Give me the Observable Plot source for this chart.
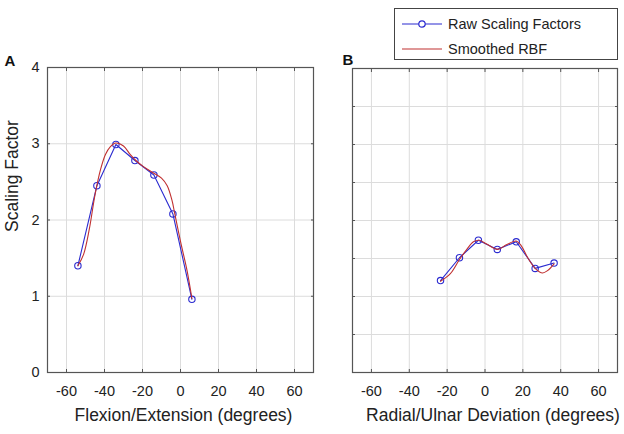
<!DOCTYPE html>
<html>
<head>
<meta charset="utf-8">
<script src="https://cdn.jsdelivr.net/npm/d3@7"></script>
<script src="https://cdn.jsdelivr.net/npm/@observablehq/plot@0.6"></script>
<style>
  body { margin: 0; background: #fff; }
  #wrap { position: relative; width: 624px; height: 434px; overflow: hidden; font-family: "Liberation Sans", Arial, sans-serif; }
  #wrap svg { position: absolute; top: 0; }
  #legend { position: absolute; left: 394px; top: 8px; width: 224px; height: 52px; border: 1px solid #444; background: #fff; box-sizing: border-box; }
  .row { position: absolute; left: 0; height: 20px; display: flex; align-items: center; font-size: 14.5px; color: #222; }
  .row svg { position: static !important; margin-left: 7px; margin-right: 6px; }
</style>
</head>
<body>
<div id="wrap"></div>
<script>
// ---- data ----
const xTicks = [-60, -40, -20, 0, 20, 40, 60];
const yTicksA = [0, 1, 2, 3, 4];
const yTicksB = [0, 0.5, 1, 1.5, 2, 2.5, 3, 3.5, 4];

const rawAX = [-54, -44, -34, -24, -14, -4, 6];
const rawAY = [1.40, 2.45, 2.99, 2.78, 2.59, 2.08, 0.96];
const smoothAX = [-54, -51, -48, -45, -42, -39.5, -37, -34, -30, -26.5, -23.5, -19.5, -14.5, -10, -7, -4.5, -3, 0, 3.5, 6];
const smoothAY = [1.40, 1.55, 1.88, 2.33, 2.67, 2.86, 2.96, 3.01, 2.97, 2.86, 2.78, 2.70, 2.62, 2.55, 2.45, 2.26, 2.08, 1.72, 1.33, 0.97];

const rawBX = [-23.5, -13.5, -3.5, 6.5, 16.5, 26.5, 36.5];
const rawBY = [1.21, 1.51, 1.74, 1.62, 1.72, 1.37, 1.44];
const smoothBX = [-23.5, -18.3, -13.4, -9.6, -6.1, -3, 0.9, 6.6, 11.3, 16.5, 19.1, 22.6, 26.9, 30.4, 33, 36.5];
const smoothBY = [1.20, 1.30, 1.49, 1.62, 1.72, 1.74, 1.69, 1.62, 1.68, 1.73, 1.67, 1.51, 1.36, 1.31, 1.34, 1.43];

const seriesNames = ["Raw Scaling Factors", "Smoothed RBF"];
const blue = "#2b2bd0";
const red = "#c03030";

const zip = (xs, ys) => xs.map((x, i) => ({x, y: ys[i]}));
const font = "Liberation Sans, Arial, sans-serif";

function panel({raw, smooth, yTicks, yLabels, letter, letterDx, letterDy, xLabel, xLabelDx, left, width, marginLeft, marginRight, marginTop}) {
  const marks = [
    Plot.gridX(xTicks, {stroke: "#dcdcdc", strokeOpacity: 1}),
    Plot.gridY(yTicks.filter(d => d > 0 && d < 4), {stroke: "#dcdcdc", strokeOpacity: 1}),
    Plot.axisX({ticks: xTicks, anchor: "bottom", tickSize: -3, tickPadding: 16, fontSize: 14.5, stroke: "#555", fill: "#222", label: null,
      tickFormat: d => String(d)}),
    Plot.axisX({ticks: xTicks, anchor: "top", tickSize: -3, tickFormat: () => "", stroke: "#555", label: null}),
    Plot.axisY({ticks: yTicks, anchor: "left", tickSize: -3, tickPadding: 11, fontSize: 14.5, stroke: "#555", fill: "#222", label: null,
      tickFormat: yLabels ? (d => String(d)) : (() => "")}),
    Plot.axisY({ticks: yTicks, anchor: "right", tickSize: -3, tickFormat: () => "", stroke: "#555", label: null}),
    Plot.frame({stroke: "#555", strokeWidth: 1.2}),
    Plot.line(raw, {x: "x", y: "y", stroke: blue, strokeWidth: 1.1}),
    Plot.dot(raw, {x: "x", y: "y", r: 3.2, stroke: blue, fill: "none", strokeWidth: 1.1}),
    Plot.line(smooth, {x: "x", y: "y", stroke: red, strokeWidth: 1.1, curve: "catmull-rom"}),
    Plot.text([letter], {frameAnchor: "top-left", text: d => d, dx: letterDx, dy: letterDy, textAnchor: "start", fontWeight: "bold", fontSize: 15, fill: "#111"}),
    Plot.text([xLabel], {frameAnchor: "bottom", text: d => d, dx: xLabelDx, dy: 48, fontSize: 17.5, fill: "#222"})
  ];
  if (yLabels) {
    marks.push(Plot.text(["Scaling Factor"], {frameAnchor: "left", text: d => d, dx: -35, dy: 12, rotate: -90, fontSize: 17.5, fill: "#222"}));
  }
  const svg = Plot.plot({
    width, height: 434,
    marginLeft, marginRight, marginTop, marginBottom: 62,
    style: {fontFamily: font, background: "transparent", overflow: "visible"},
    x: {domain: [-70, 70]},
    y: {domain: [0, 4]},
    marks
  });
  svg.style.left = left + "px";
  return svg;
}

const wrap = document.getElementById("wrap");
wrap.appendChild(panel({
  raw: zip(rawAX, rawAY), smooth: zip(smoothAX, smoothAY), yTicks: yTicksA, yLabels: true,
  letter: "A", letterDx: -43, letterDy: -12.5, xLabel: "Flexion/Extension (degrees)", xLabelDx: 3,
  left: 0, width: 330, marginLeft: 47, marginRight: 17, marginTop: 67
}));
wrap.appendChild(panel({
  raw: zip(rawBX, rawBY), smooth: zip(smoothBX, smoothBY), yTicks: yTicksB, yLabels: false,
  letter: "B", letterDx: -10, letterDy: -14.5, xLabel: "Radial/Ulnar Deviation (degrees)", xLabelDx: 8,
  left: 310, width: 314, marginLeft: 42, marginRight: 7, marginTop: 68
}));

// legend
const legend = document.createElement("div");
legend.id = "legend";
seriesNames.forEach((name, i) => {
  const row = document.createElement("div");
  row.className = "row";
  row.style.top = (i === 0 ? 5 : 30) + "px";
  const c = i === 0 ? blue : red;
  row.innerHTML = `<svg width="40" height="10"><line x1="0" x2="40" y1="5" y2="5" stroke="${c}" stroke-width="1.2"/>` +
    (i === 0 ? `<circle cx="20" cy="5" r="3.2" fill="#fff" stroke="${c}" stroke-width="1.2"/>` : "") +
    `</svg><span>${name}</span>`;
  legend.appendChild(row);
});
wrap.appendChild(legend);
</script>
</body>
</html>
